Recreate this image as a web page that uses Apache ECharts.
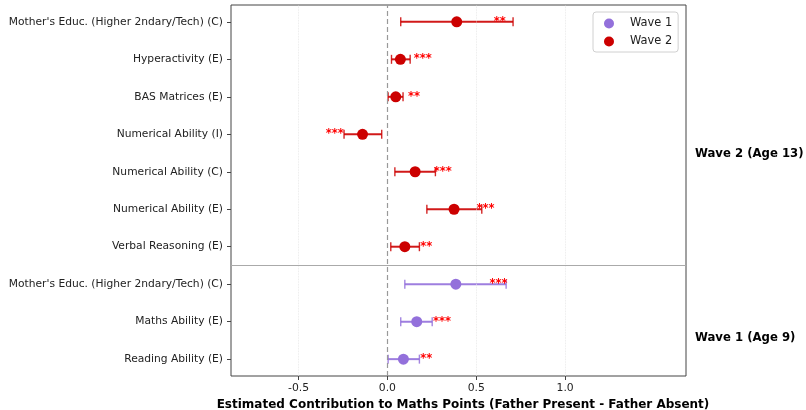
<!DOCTYPE html>
<html>
<head>
<meta charset="utf-8">
<script src="https://cdn.jsdelivr.net/npm/echarts@6/dist/echarts.min.js"></script>
<style>
  html, body { margin: 0; padding: 0; background: #fff; }
  #chart { width: 806px; height: 410px; }
</style>
</head>
<body>
<div id="chart"></div>
<script>
// rows counted from the bottom of the plot
const rowLabels = [
  'Reading Ability (E)',
  'Maths Ability (E)',
  "Mother's Educ. (Higher 2ndary/Tech) (C)",
  'Verbal Reasoning (E)',
  'Numerical Ability (E)',
  'Numerical Ability (C)',
  'Numerical Ability (I)',
  'BAS Matrices (E)',
  'Hyperactivity (E)',
  "Mother's Educ. (Higher 2ndary/Tech) (C)"
]

const wave1Rows = [0, 1, 2]
const wave1Coef = [0.09, 0.165, 0.385]
const wave1Low = [0.004, 0.075, 0.098]
const wave1High = [0.18, 0.252, 0.668]
const wave1Stars = ['**', '***', '***']
const wave1StarX = [0.218, 0.307, 0.625]

const wave2Rows = [3, 4, 5, 6, 7, 8, 9]
const wave2Coef = [0.098, 0.375, 0.156, -0.14, 0.047, 0.073, 0.39]
const wave2Low = [0.019, 0.222, 0.042, -0.244, 0.004, 0.023, 0.075]
const wave2High = [0.18, 0.531, 0.27, -0.032, 0.088, 0.128, 0.707]
const wave2Stars = ['**', '***', '***', '***', '**', '***', '**']
const wave2StarX = [0.219, 0.552, 0.311, -0.296, 0.150, 0.199, 0.632]

const xTicks = [-0.5, 0, 0.5, 1.0]
const groupSplit = 2.5

const font = '"DejaVu Sans", sans-serif'
const red = '#cc0000'
const purple = '#9370db'

function renderErrorBar (params, api) {
  const y = api.value(2)
  const a = api.coord([api.value(0), y])
  const b = api.coord([api.value(1), y])
  const color = api.visual('color')
  const style = { stroke: color, lineWidth: 2, opacity: 0.9 }
  const cap = { stroke: color, lineWidth: 1.4, opacity: 0.85 }
  return {
    type: 'group',
    children: [
      { type: 'line', shape: { x1: a[0], y1: a[1], x2: b[0], y2: b[1] }, style: style },
      { type: 'line', shape: { x1: a[0], y1: a[1] - 4.5, x2: a[0], y2: a[1] + 4.5 }, style: cap },
      { type: 'line', shape: { x1: b[0], y1: b[1] - 4.5, x2: b[0], y2: b[1] + 4.5 }, style: cap }
    ]
  }
}

function starRenderer (stars) {
  return function (params, api) {
    const p = api.coord([api.value(0), api.value(1)])
    return {
      type: 'text',
      x: p[0],
      y: p[1],
      style: {
        text: stars[params.dataIndex],
        fill: '#ff0000',
        font: 'bold 11.5px ' + font,
        align: 'center',
        verticalAlign: 'middle'
      }
    }
  }
}

function bars (rows, low, high) {
  return rows.map((r, i) => [low[i], high[i], r])
}

function points (rows, coef) {
  return rows.map((r, i) => [coef[i], r])
}

const chart = echarts.init(document.getElementById('chart'))

const option = {
  animation: false,
  backgroundColor: '#fff',
  textStyle: { fontFamily: font },
  grid: {
    left: 231,
    top: 5,
    width: 455,
    height: 371,
    outerBoundsMode: 'none',
    containLabel: false,
    show: true,
    borderColor: '#444',
    borderWidth: 1,
    backgroundColor: 'transparent'
  },
  legend: {
    orient: 'vertical',
    left: 593,
    top: 12,
    padding: [6, 6, 5, 11],
    itemWidth: 10,
    itemHeight: 10,
    itemGap: 7,
    borderColor: '#d0d0d0',
    borderWidth: 1,
    borderRadius: 3,
    backgroundColor: 'rgba(255,255,255,0.8)',
    textStyle: { fontSize: 11.4, color: '#222', fontFamily: font, padding: [0, 0, 0, 11] },
    data: [
      { name: 'Wave 1', icon: 'circle' },
      { name: 'Wave 2', icon: 'circle' }
    ]
  },
  xAxis: {
    type: 'value',
    min: -0.88,
    max: 1.68,
    name: 'Estimated Contribution to Maths Points (Father Present - Father Absent)',
    nameLocation: 'middle',
    nameGap: 21,
    nameTextStyle: {
      fontWeight: 'bold',
      fontSize: 12,
      color: '#000',
      fontFamily: font,
      verticalAlign: 'top',
      padding: [0, 0, 0, 9]
    },
    axisLine: { show: false, onZero: false },
    axisTick: { show: true, length: 4, customValues: xTicks, lineStyle: { color: '#444' } },
    axisLabel: {
      customValues: xTicks,
      margin: 7,
      fontSize: 10.8,
      color: '#222',
      fontFamily: font,
      formatter: v => v.toFixed(1)
    },
    splitLine: { show: false }
  },
  yAxis: {
    type: 'value',
    min: -0.45,
    max: 9.45,
    axisLine: { show: false, onZero: false },
    axisTick: { show: true, length: 4, customValues: rowLabels.map((_, i) => i), lineStyle: { color: '#444' } },
    axisLabel: {
      customValues: rowLabels.map((_, i) => i),
      margin: 8,
      fontSize: 10.7,
      color: '#222',
      fontFamily: font,
      formatter: v => rowLabels[Math.round(v)]
    },
    splitLine: { show: false }
  },
  graphic: [
    {
      type: 'text',
      x: 695,
      y: 153.5,
      style: { text: 'Wave 2 (Age 13)', font: 'bold 11.7px ' + font, fill: '#000', verticalAlign: 'middle' }
    },
    {
      type: 'text',
      x: 695,
      y: 337.5,
      style: { text: 'Wave 1 (Age 9)', font: 'bold 11.7px ' + font, fill: '#000', verticalAlign: 'middle' }
    }
  ],
  series: [
    {
      name: 'guides',
      type: 'scatter',
      data: [],
      z: 1,
      markLine: {
        silent: true,
        symbol: 'none',
        label: { show: false },
        data: [
          { xAxis: -0.5, lineStyle: { color: '#e4e4e4', width: 0.8, type: 'dotted' } },
          { xAxis: 0.5, lineStyle: { color: '#e4e4e4', width: 0.8, type: 'dotted' } },
          { xAxis: 1.0, lineStyle: { color: '#e4e4e4', width: 0.8, type: 'dotted' } },
          { xAxis: 0, lineStyle: { color: '#999', width: 1.2, type: [5, 3] } },
          { yAxis: groupSplit, lineStyle: { color: '#aaa', width: 1, type: 'solid' } }
        ]
      }
    },
    {
      name: 'Wave 1 CI',
      type: 'custom',
      z: 2,
      itemStyle: { color: purple },
      renderItem: renderErrorBar,
      data: bars(wave1Rows, wave1Low, wave1High)
    },
    {
      name: 'Wave 2 CI',
      type: 'custom',
      z: 2,
      itemStyle: { color: red },
      renderItem: renderErrorBar,
      data: bars(wave2Rows, wave2Low, wave2High)
    },
    {
      name: 'Wave 1',
      type: 'scatter',
      z: 3,
      symbolSize: 11,
      itemStyle: { color: purple, opacity: 1 },
      data: points(wave1Rows, wave1Coef)
    },
    {
      name: 'Wave 2',
      type: 'scatter',
      z: 3,
      symbolSize: 11,
      itemStyle: { color: red, opacity: 1 },
      data: points(wave2Rows, wave2Coef)
    },
    {
      name: 'Wave 1 stars',
      type: 'custom',
      z: 4,
      renderItem: starRenderer(wave1Stars),
      data: points(wave1Rows, wave1StarX)
    },
    {
      name: 'Wave 2 stars',
      type: 'custom',
      z: 4,
      renderItem: starRenderer(wave2Stars),
      data: points(wave2Rows, wave2StarX)
    }
  ]
}

chart.setOption(option)
</script>
</body>
</html>
